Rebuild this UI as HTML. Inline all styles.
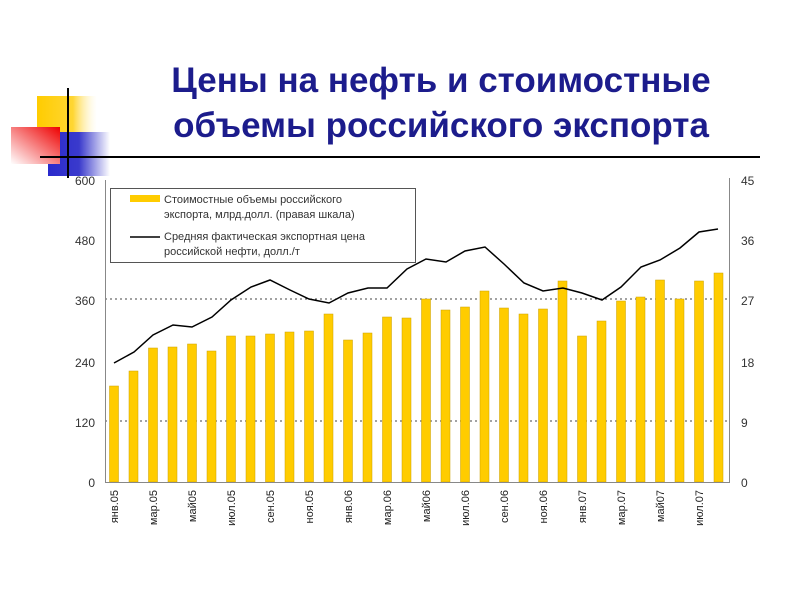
<!DOCTYPE html>
<html><head><meta charset="utf-8"><style>
body{margin:0;width:800px;height:600px;background:#fff;overflow:hidden}
svg{display:block}
</style></head><body>
<svg width="800" height="600" xmlns="http://www.w3.org/2000/svg" font-family="'Liberation Sans','DejaVu Sans',sans-serif">
<defs>
<linearGradient id="gy" x1="0" x2="1"><stop offset="0" stop-color="#ffcc00"/><stop offset="0.6" stop-color="#ffd633"/><stop offset="1" stop-color="#fff" stop-opacity="0.3"/></linearGradient>
<linearGradient id="gr" x1="1" x2="0" y1="0" y2="1"><stop offset="0" stop-color="#ee0000"/><stop offset="1" stop-color="#fff"/></linearGradient>
<linearGradient id="gb" x1="0" x2="1"><stop offset="0" stop-color="#2a2acc"/><stop offset="0.5" stop-color="#3a3acc"/><stop offset="1" stop-color="#fff"/></linearGradient>
</defs>
<rect x="37" y="96" width="60" height="36" fill="url(#gy)"/>
<rect x="48" y="132" width="62" height="44" fill="url(#gb)"/>
<rect x="11" y="127" width="49" height="37" fill="url(#gr)"/>
<line x1="68" y1="88" x2="68" y2="178" stroke="#000" stroke-width="2"/>
<line x1="40" y1="157" x2="760" y2="157" stroke="#000" stroke-width="2"/>
<text x="441" y="92" text-anchor="middle" font-size="35" font-weight="bold" fill="#1c1c8c">Цены на нефть и стоимостные</text>
<text x="441" y="137" text-anchor="middle" font-size="35" font-weight="bold" fill="#1c1c8c">объемы российского экспорта</text>
<g stroke="#444" stroke-width="1" stroke-dasharray="2,3">
<line x1="105" y1="299" x2="730" y2="299"/><line x1="105" y1="421" x2="730" y2="421"/>
</g>
<g id="bars" fill="#ffcc00" stroke="#c9a000" stroke-width="0.5"></g>
<line x1="105.5" y1="180" x2="105.5" y2="482" stroke="#888"/>
<line x1="729.5" y1="178" x2="729.5" y2="482" stroke="#888"/>
<line x1="105" y1="482.5" x2="730" y2="482.5" stroke="#888"/>
<polyline fill="none" stroke="#000" stroke-width="1.5" points="114,363 134,352 153,335 173,325 192,327 212,317 231,300 251,287 270,280 290,290 309,299 329,303 348,293 368,288 387,288 407,269 426,259 446,262 465,251 485,247 504,264 524,283 543,291 563,288 582,293 602,300 621,287 641,267 660,260 680,248 699,232 718,229"/>
<g font-size="12" fill="#333" text-anchor="end">
<text x="95" y="185">600</text><text x="95" y="245">480</text><text x="95" y="305">360</text><text x="95" y="367">240</text><text x="95" y="427">120</text><text x="95" y="487">0</text>
</g>
<g font-size="12" fill="#333">
<text x="741" y="185">45</text><text x="741" y="245">36</text><text x="741" y="305">27</text><text x="741" y="367">18</text><text x="741" y="427">9</text><text x="741" y="487">0</text>
</g>
<rect x="110.5" y="188.5" width="305" height="74" fill="#fff" stroke="#555"/>
<rect x="130" y="195" width="30" height="7" fill="#ffcc00"/>
<line x1="130" y1="237" x2="160" y2="237" stroke="#000" stroke-width="1.5"/>
<g font-size="11" fill="#333">
<text x="164" y="203">Стоимостные объемы российского</text>
<text x="164" y="218">экспорта, млрд.долл. (правая шкала)</text>
<text x="164" y="240">Средняя фактическая экспортная цена</text>
<text x="164" y="255">российской нефти, долл./т</text>
</g>
<g id="labels" font-size="11" fill="#222" text-anchor="end"></g>
</svg>
<script>
var tops=[386,371,348,347,344,351,336,336,334,332,331,314,340,333,317,318,299,310,307,291,308,314,309,281,336,321,301,297,280,299,281,273];
var g=document.getElementById('bars'),s='';
for(var i=0;i<32;i++){var cx=114+i*19.5;s+='<rect x="'+(cx-4.5)+'" y="'+tops[i]+'" width="9" height="'+(482-tops[i])+'"/>';}
g.innerHTML=s;
var L=['янв.05','мар.05','май05','июл.05','сен.05','ноя.05','янв.06','мар.06','май06','июл.06','сен.06','ноя.06','янв.07','мар.07','май07','июл.07'];
var t='';for(var j=0;j<16;j++){var x=118+j*39;t+='<text transform="translate('+x+',490) rotate(-90)">'+L[j]+'</text>';}
document.getElementById('labels').innerHTML=t;
</script>
</body></html>
